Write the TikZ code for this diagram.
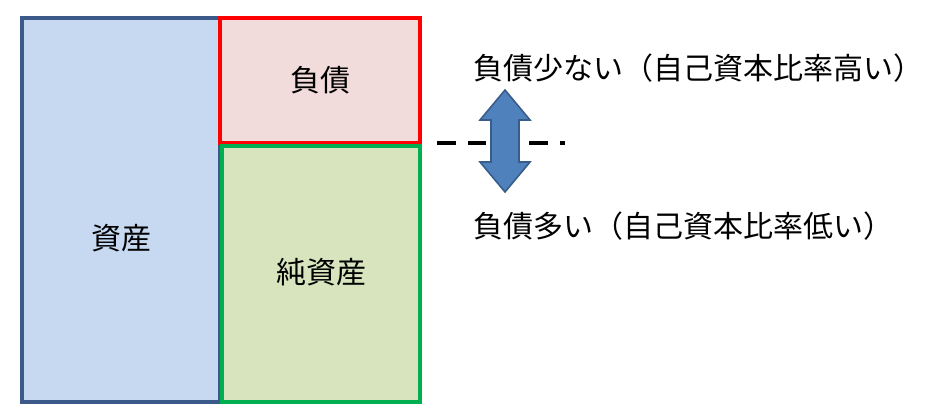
\documentclass[tikz,border=0pt]{standalone}
\usepackage{fontspec}
\newfontfamily\cjk{Noto Sans CJK JP}
\usetikzlibrary{positioning}
\definecolor{assetfill}{HTML}{C6D9F1}
\definecolor{assetline}{HTML}{3B5A8A}
\definecolor{debtfill}{HTML}{F2DCDB}
\definecolor{debtline}{HTML}{FF0000}
\definecolor{eqfill}{HTML}{D7E4BD}
\definecolor{eqline}{HTML}{00B050}
\definecolor{arrowfill}{HTML}{4F81BD}
\definecolor{arrowline}{HTML}{385D8A}
\tikzset{
  box/.style = {line width = 3pt},
  lbl/.style = {font = \cjk\fontsize{22.5}{26}\selectfont, inner sep = 0pt},
}
\begin{document}
\begin{tikzpicture}[x = 0.75pt, y = -0.75pt]
	\useasboundingbox (0,0) rectangle (952,419);
	
	\filldraw [box, fill = assetfill, draw = assetline] (22,18) rectangle (220,402);
	\filldraw [box, fill = debtfill, draw = debtline] (220,18) rectangle (420,143);
	\filldraw [box, fill = eqfill, draw = eqline] (222,146) rectangle (420,402);
	
	\node [lbl] (asset) at (121,238) {資産};
	\node [lbl] (debt) at (320,80) {負債};
	\node [lbl] (equity) at (321,272) {純資産};
	
	\draw [line width = 3pt, dash pattern = on 14pt off 9pt] (437,143) -- (565,143);
	
	\filldraw [fill = arrowfill, draw = arrowline, line width = 1.2pt]
		(505,90) -- (530,120) -- (519,120) -- (519,162) -- (530,162) -- (505,192)
		-- (480,162) -- (491,162) -- (491,120) -- (480,120) -- cycle;
	
	\node [lbl, anchor = west] (low) at (473,68) {負債少ない（自己資本比率高い）};
	\node [lbl, anchor = west] (high) at (473,226) {負債多い（自己資本比率低い）};
\end{tikzpicture}
\end{document}
